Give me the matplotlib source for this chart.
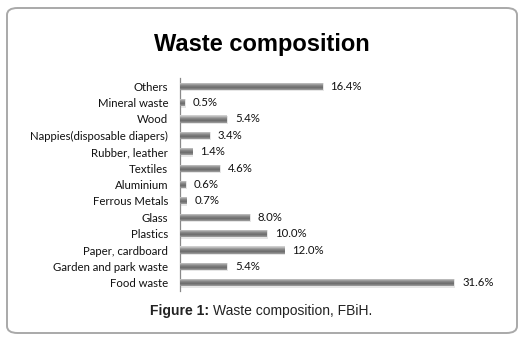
import matplotlib
matplotlib.use("Agg")
import matplotlib.pyplot as plt
import numpy as np
from matplotlib.patches import FancyBboxPatch
from matplotlib.colors import LinearSegmentedColormap

categories = ["Food waste", "Garden and park waste", "Paper, cardboard", "Plastics",
              "Glass", "Ferrous Metals", "Aluminium", "Textiles", "Rubber, leather",
              "Nappies(disposable diapers)", "Wood", "Mineral waste", "Others"]
values = [31.6, 5.4, 12.0, 10.0, 8.0, 0.7, 0.6, 4.6, 1.4, 3.4, 5.4, 0.5, 16.4]
value_labels = ["31.6%", "5.4%", "12.0%", "10.0%", "8.0%", "0.7%", "0.6%", "4.6%",
                "1.4%", "3.4%", "5.4%", "0.5%", "16.4%"]

W, H = 529, 345
fig = plt.figure(figsize=(W / 100, H / 100), dpi=100)
fig.patch.set_facecolor("white")

# outer rounded frame
box = FancyBboxPatch((7 / W, 1 - 333 / H), (517 - 7) / W, (333 - 8) / H,
                     boxstyle="round,pad=0,rounding_size=0.02",
                     transform=fig.transFigure, facecolor="none",
                     edgecolor="#a9a9a9", linewidth=1.4, zorder=-5)
fig.patches.append(box)

ax_left = 180 / W
xmax = 35.0
ax_w = xmax * (274 / 31.6) / W
ax = fig.add_axes([ax_left, 1 - 291 / H, ax_w, (291 - 78) / H])
ax.set_facecolor("none")
ax.set_zorder(2)

ypos = np.arange(len(categories))
bars = ax.barh(ypos, values, height=0.44, color="#8a8a8a", linewidth=0, zorder=2)

cmap = LinearSegmentedColormap.from_list(
    "cyl", [(0.0, "#a0a0a0"), (0.3, "#6a6a6a"), (0.6, "#8a8a8a"), (0.85, "#c0c0c0"), (1.0, "#dadada")])
grad = np.linspace(0, 1, 64).reshape(-1, 1)
for b in bars:
    x0, y0 = b.get_x(), b.get_y()
    w, h = b.get_width(), b.get_height()
    im = ax.imshow(grad, extent=(x0, x0 + w, y0, y0 + h), origin="lower",
                   cmap=cmap, aspect="auto", zorder=3, interpolation="bilinear")
    im.set_clip_path(b)
    # soft shadow
    ax.barh(y0 + h / 2 - 0.05, w + 0.15, height=h * 1.15, left=x0, color="#e6e6e6",
            linewidth=0, zorder=1)

for yy, v, lab in zip(ypos, values, value_labels):
    ax.annotate(lab, xy=(v, yy), xytext=(6, 0), textcoords="offset points",
                va="center", ha="left", fontsize=8.2, family="Lato", color="#111111")

ax.set_xlim(0, xmax)
ax.set_ylim(-0.5, len(categories) - 0.5)
ax.set_yticks(ypos)
ax.set_yticklabels(categories, fontsize=8.2, family="Lato", color="#111111")
ax.tick_params(axis="y", length=0, pad=8.5)
ax.set_xticks([])
for s in ["top", "right", "bottom"]:
    ax.spines[s].set_visible(False)
ax.spines["left"].set_color("#888888")
ax.spines["left"].set_linewidth(0.9)

fig.text(262 / W, 1 - 44 / H, "Waste composition", ha="center", va="center",
         fontsize=17, fontweight="bold", family="Liberation Sans", color="black")

t1 = fig.text(150 / W, 1 - 311 / H, "Figure 1:", ha="left", va="center",
              fontsize=10, fontweight="bold", family="Liberation Sans", color="#222222")
fig.canvas.draw()
bb = t1.get_window_extent()
fig.text((bb.x1 + 4) / W, 1 - 311 / H, "Waste composition, FBiH.", ha="left", va="center",
         fontsize=10, family="Liberation Sans", color="#222222")

fig.savefig("out.png", dpi=100, facecolor="white")
